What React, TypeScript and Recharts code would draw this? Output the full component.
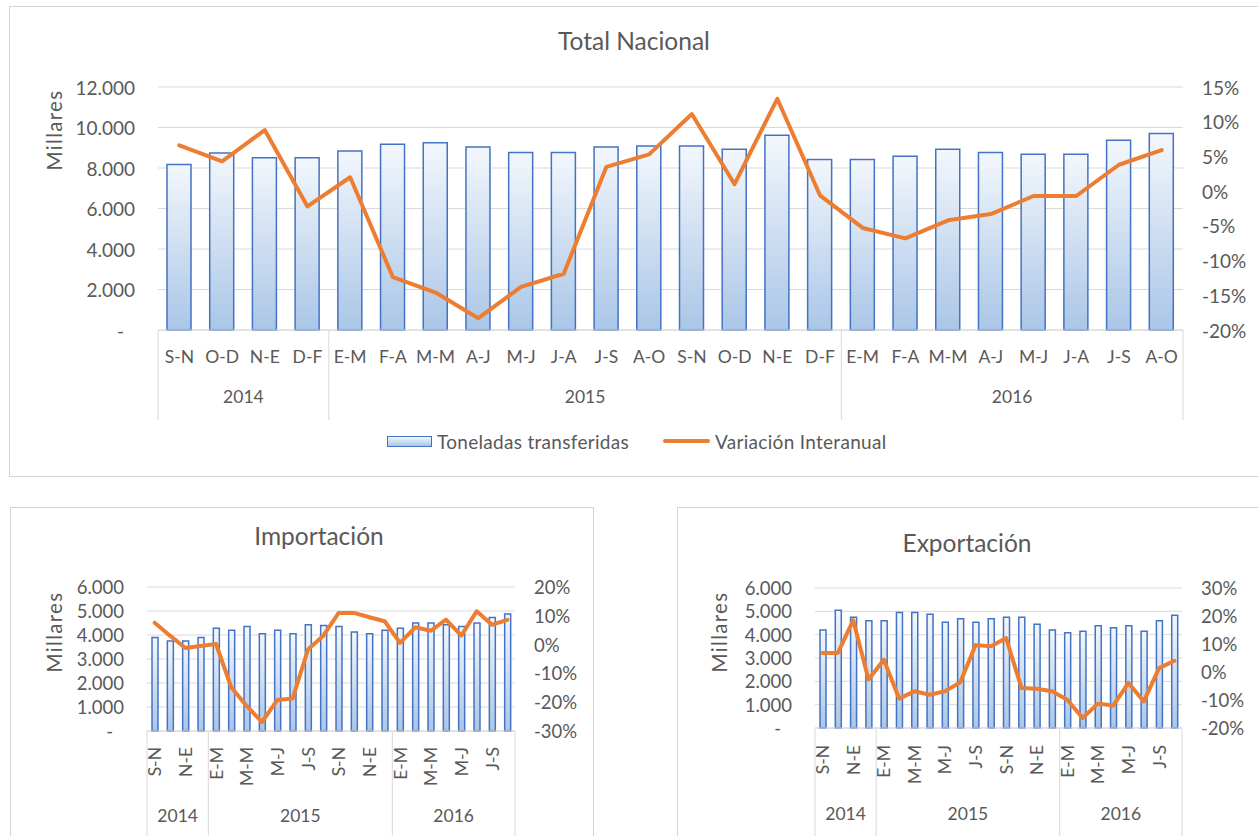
import React from "react";
import { ComposedChart, Bar, Line, XAxis, YAxis, CartesianGrid } from "recharts";

// periods (two-month windows) grouped by year
const periods = [
  "S-N", "O-D", "N-E", "D-F",
  "E-M", "F-A", "M-M", "A-J", "M-J", "J-A", "J-S", "A-O", "S-N", "O-D", "N-E", "D-F",
  "E-M", "F-A", "M-M", "A-J", "M-J", "J-A", "J-S", "A-O",
];
const years = ["2014", "2015", "2016"];
const yearSpans = [4, 12, 8];

// Total Nacional (miles de toneladas) and yoy variation (%)
const totalTons = [8170, 8740, 8510, 8510, 8840, 9170, 9250, 9040, 8760, 8760, 9040, 9090, 9090, 8920, 9620, 8420, 8420, 8580, 8920, 8760, 8680, 8680, 9370, 9700];
const totalVar = [6.6, 4.3, 8.8, -2.2, 2.0, -12.4, -14.6, -18.3, -13.8, -11.9, 3.5, 5.3, 11.1, 1.0, 13.3, -0.6, -5.3, -6.8, -4.2, -3.3, -0.7, -0.7, 3.8, 5.9];

// Importación
const importTons = [3900, 3750, 3750, 3900, 4280, 4200, 4350, 4050, 4200, 4050, 4430, 4400, 4350, 4130, 4050, 4200, 4280, 4500, 4500, 4430, 4350, 4500, 4730, 4880];
const importVar = [7.6, 3.1, -1.2, -0.5, 0.2, -14.9, -21.3, -26.9, -19.2, -18.7, -1.7, 3.1, 11.0, 11.0, 9.5, 8.1, 0.6, 6.0, 4.8, 8.7, 3.1, 11.6, 6.9, 8.6];

// Exportación
const exportTons = [4200, 5050, 4750, 4600, 4600, 4950, 4950, 4880, 4530, 4680, 4530, 4680, 4750, 4750, 4450, 4200, 4080, 4150, 4380, 4300, 4380, 4150, 4600, 4830];
const exportVar = [6.8, 6.8, 18.5, -2.7, 4.4, -9.5, -6.9, -8.1, -6.9, -3.7, 9.6, 9.2, 12.1, -5.7, -6.0, -6.9, -9.9, -16.4, -11.3, -12.0, -3.9, -10.5, 1.4, 4.0];

// tick labels
const totalTonsTicks = [0, 2000, 4000, 6000, 8000, 10000, 12000];
const totalVarTicks = [-20, -15, -10, -5, 0, 5, 10, 15];
const subTonsTicks = [0, 1000, 2000, 3000, 4000, 5000, 6000];
const importVarTicks = [-30, -20, -10, 0, 10, 20];
const exportVarTicks = [-20, -10, 0, 10, 20, 30];

const FONT = "Lato, 'Open Sans', Arial, sans-serif";
const TEXT = "#595959";
const GRID = "#d9d9d9";
const BAR_STROKE = "#4472c4";
const LINE = "#ed7d31";

const groupStarts = yearSpans.map((_, g) => yearSpans.slice(0, g).reduce((a, b) => a + b, 0));

const fmtThousands = (v: number) => String(v).replace(/\B(?=(\d{3})+(?!\d))/g, ".");

type PanelProps = {
  id: string;
  left: number;
  top: number;
  width: number;
  height: number;
  marginTop: number;
  leftAxisW: number;
  rightAxisW: number;
  xAxisH: number;
  tons: number[];
  pct: number[];
  tonsTicks: number[];
  pctTicks: number[];
  barSize: number;
  rotated: boolean;
  labelDy: number;
  yearDy: number;
  tickFont: number;
  catFont: number;
};

function Panel(p: PanelProps) {
  const rows = periods.map((_, i) => ({ idx: i, tons: p.tons[i], pct: p.pct[i] }));
  const plotW = p.width - p.leftAxisW - p.rightAxisW;
  const band = plotW / periods.length;
  const lineLen = p.xAxisH;

  const catTick = (props: any) => {
    const { x, y, payload } = props;
    const i = payload.value as number;
    const g = groupStarts.indexOf(i);
    const ly = y + p.labelDy;
    const parts: React.ReactNode[] = [];
    if (p.rotated) {
      parts.push(
        <text key="c" x={x} y={ly} transform={`rotate(-90 ${x} ${ly})`} textAnchor="end"
          dominantBaseline="central" fill={TEXT} fontSize={p.catFont} fontFamily={FONT}>
          {periods[i]}
        </text>
      );
    } else {
      parts.push(
        <text key="c" x={x} y={ly} textAnchor="middle" dominantBaseline="central"
          fill={TEXT} fontSize={p.catFont} fontFamily={FONT}>
          {periods[i]}
        </text>
      );
    }
    if (g >= 0) {
      const x0 = x - band / 2;
      const w = yearSpans[g] * band;
      parts.push(<line key="l" x1={x0} x2={x0} y1={y} y2={y + lineLen} stroke={GRID} />);
      parts.push(
        <text key="y" x={x0 + w / 2} y={y + p.yearDy} textAnchor="middle" dominantBaseline="central"
          fill={TEXT} fontSize={p.catFont} fontFamily={FONT}>
          {years[g]}
        </text>
      );
      if (g === years.length - 1) {
        parts.push(<line key="r" x1={x0 + w} x2={x0 + w} y1={y} y2={y + lineLen} stroke={GRID} />);
      }
    }
    return <g>{parts}</g>;
  };

  const leftTick = (props: any) => {
    const { x, y, payload } = props;
    const v = payload.value as number;
    return (
      <text x={v === 0 ? x - 11 : x} y={y} textAnchor="end" dominantBaseline="central"
        fill={TEXT} fontSize={p.tickFont} fontFamily={FONT}>
        {v === 0 ? "-" : fmtThousands(v)}
      </text>
    );
  };

  const rightTick = (props: any) => {
    const { x, y, payload } = props;
    return (
      <text x={x} y={y} textAnchor="start" dominantBaseline="central"
        fill={TEXT} fontSize={p.tickFont} fontFamily={FONT}>
        {`${payload.value}%`}
      </text>
    );
  };

  const gradId = `grad-${p.id}`;
  return (
    <div style={{ position: "absolute", left: p.left, top: p.top }}>
      <ComposedChart width={p.width} height={p.height} data={rows}
        margin={{ top: p.marginTop, right: 0, bottom: 0, left: 0 }}>
        <defs>
          <linearGradient id={gradId} x1="0" y1="0" x2="0" y2="1">
            <stop offset="0%" stopColor="#f3f7fc" />
            <stop offset="100%" stopColor="#aac6e7" />
          </linearGradient>
        </defs>
        <CartesianGrid yAxisId="l" vertical={false} stroke={GRID} />
        <XAxis dataKey="idx" type="category" height={p.xAxisH} interval={p.rotated ? 1 : 0}
          tickSize={0} tickMargin={0} tickLine={false} axisLine={{ stroke: GRID }} tick={catTick} />
        <YAxis yAxisId="l" orientation="left" width={p.leftAxisW}
          domain={[p.tonsTicks[0], p.tonsTicks[p.tonsTicks.length - 1]]} ticks={p.tonsTicks}
          interval={0} tickSize={0} tickMargin={23} axisLine={false} tickLine={false} tick={leftTick} />
        <YAxis yAxisId="r" orientation="right" width={p.rightAxisW}
          domain={[p.pctTicks[0], p.pctTicks[p.pctTicks.length - 1]]} ticks={p.pctTicks}
          interval={0} tickSize={0} tickMargin={19} axisLine={false} tickLine={false} tick={rightTick} />
        <Bar yAxisId="l" dataKey="tons" barSize={p.barSize} fill={`url(#${gradId})`}
          stroke={BAR_STROKE} strokeWidth={1.5} isAnimationActive={false} />
        <Line yAxisId="r" dataKey="pct" type="linear" stroke={LINE} strokeWidth={4}
          strokeLinejoin="round" strokeLinecap="round" dot={false} isAnimationActive={false} />
      </ComposedChart>
    </div>
  );
}

const centered = (cx: number, cy: number, size: number, rotate = false, spacing = 0): React.CSSProperties => ({
  position: "absolute",
  left: cx,
  top: cy,
  transform: `translate(-50%, -50%)${rotate ? " rotate(-90deg)" : ""}`,
  whiteSpace: "nowrap",
  fontSize: size,
  letterSpacing: spacing,
  color: TEXT,
  fontFamily: FONT,
  lineHeight: 1,
});

const frame = (left: number, top: number, width: number, height: number): React.CSSProperties => ({
  position: "absolute",
  left,
  top,
  width,
  height,
  border: "1px solid #d4d4d4",
  boxSizing: "border-box",
});

export default function App() {
  return (
    <div style={{ position: "absolute", left: 0, top: 0, width: 1258, height: 836, overflow: "hidden", background: "#fff", fontFamily: FONT }}>
      <div style={frame(9, 6, 1270, 471)} />
      <div style={frame(10, 507, 584, 360)} />
      <div style={frame(677, 507, 620, 360)} />

      <Panel id="total" left={0} top={0} width={1258} height={420} marginTop={87}
        leftAxisW={158} rightAxisW={75} xAxisH={90} tons={totalTons} pct={totalVar}
        tonsTicks={totalTonsTicks} pctTicks={totalVarTicks} barSize={24} rotated={false}
        labelDy={26} yearDy={66} tickFont={19} catFont={17.5} />
      <Panel id="imp" left={0} top={500} width={600} height={336} marginTop={87}
        leftAxisW={147} rightAxisW={85} xAxisH={105} tons={importTons} pct={importVar}
        tonsTicks={subTonsTicks} pctTicks={importVarTicks} barSize={6} rotated={true}
        labelDy={16} yearDy={84} tickFont={18.5} catFont={17.5} />
      <Panel id="exp" left={670} top={500} width={588} height={336} marginTop={88}
        leftAxisW={145} rightAxisW={76} xAxisH={108} tons={exportTons} pct={exportVar}
        tonsTicks={subTonsTicks} pctTicks={exportVarTicks} barSize={6} rotated={true}
        labelDy={17} yearDy={85} tickFont={18.5} catFont={17.5} />

      <div style={centered(634, 41, 24.5)}>Total Nacional</div>
      <div style={centered(319, 536, 24.5)}>Importación</div>
      <div style={centered(967, 543, 24.5)}>Exportación</div>

      <div style={centered(54, 130, 20.5, true, 1.3)}>Millares</div>
      <div style={centered(54, 632, 20.5, true, 1.3)}>Millares</div>
      <div style={centered(719, 632, 20.5, true, 1.3)}>Millares</div>

      {/* legend of the top chart */}
      <div style={{ position: "absolute", left: 387, top: 430, height: 22, display: "flex", alignItems: "center", fontSize: 19, letterSpacing: 0.3, color: TEXT, fontFamily: FONT, whiteSpace: "nowrap" }}>
        <span style={{ display: "inline-block", width: 45, height: 11, border: `1.5px solid ${BAR_STROKE}`, boxSizing: "border-box", background: "linear-gradient(#f3f7fc, #aac6e7)" }} />
        <span style={{ marginLeft: 5 }}>Toneladas transferidas</span>
        <span style={{ display: "inline-block", width: 47, height: 4, background: LINE, borderRadius: 2, marginLeft: 34 }} />
        <span style={{ marginLeft: 5 }}>Variación Interanual</span>
      </div>
    </div>
  );
}
